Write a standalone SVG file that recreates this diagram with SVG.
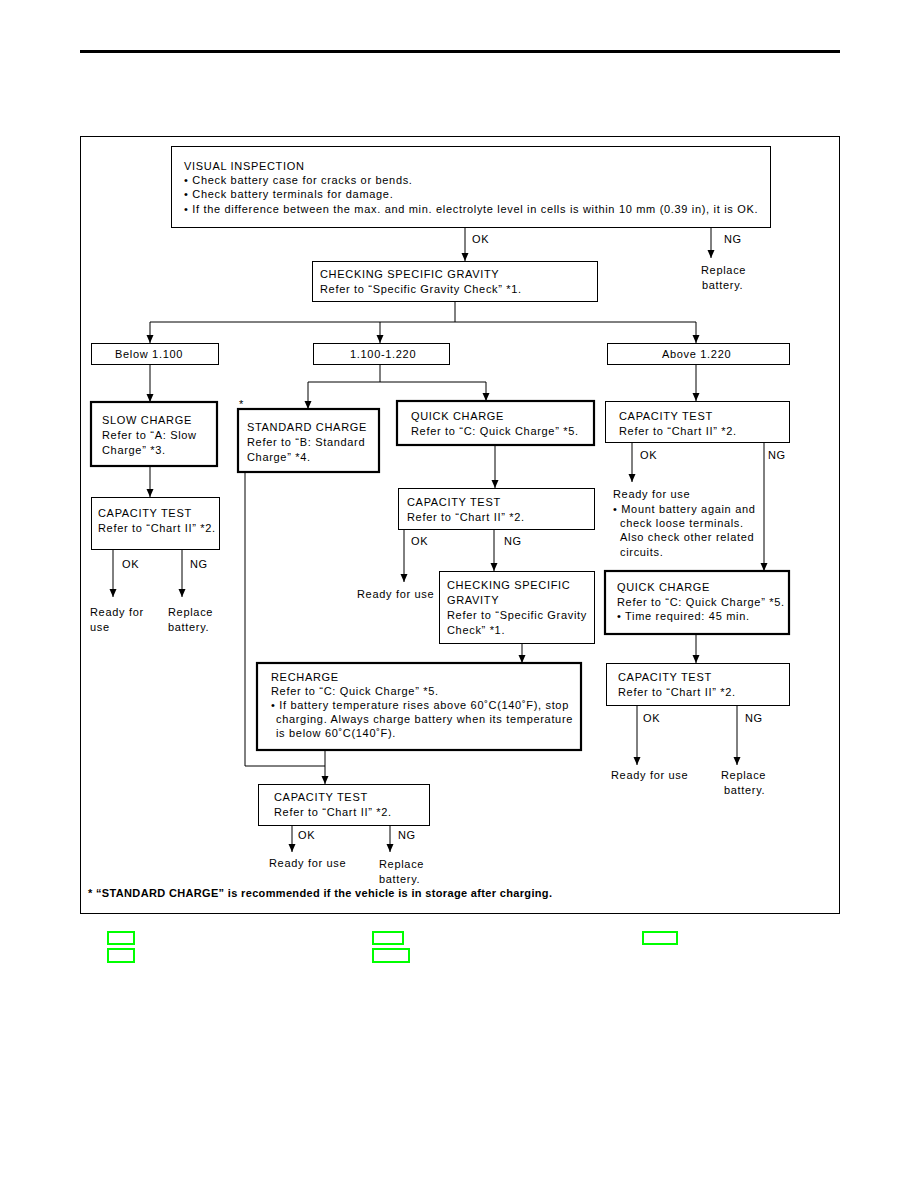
<svg xmlns="http://www.w3.org/2000/svg" width="918" height="1188" viewBox="0 0 918 1188">
<defs>
<marker id="ah" viewBox="0 0 8 10" refX="8" refY="5" markerWidth="8" markerHeight="10" markerUnits="userSpaceOnUse" orient="auto">
<path d="M0,1.5 L8,5 L0,8.5 Z" fill="#000"/>
</marker>
<style>
text{font-family:"Liberation Sans",Arial,sans-serif;font-size:11px;fill:#000;letter-spacing:0.68px}
.b{fill:#fff;stroke:#000;stroke-width:1}
.t{fill:#fff;stroke:#000;stroke-width:2.2}
.c{fill:none;stroke:#000;stroke-width:1}
.a{fill:none;stroke:#000;stroke-width:1;marker-end:url(#ah)}
.g{fill:none;stroke:#00ff00;stroke-width:2}
.fn{font-weight:bold;letter-spacing:0.34px}
</style>
</defs>
<rect width="918" height="1188" fill="#fff"/>
<line x1="80" y1="51.5" x2="840" y2="51.5" stroke="#000" stroke-width="3"/>
<rect x="80.5" y="136.5" width="759" height="777" fill="none" stroke="#000" stroke-width="1"/>

<g id="connectors">
<path class="a" d="M465,227 V261"/>
<path class="a" d="M711,227 V258"/>
<path class="c" d="M455,301 V322 M150,322 H696"/>
<path class="a" d="M150,322 V343"/>
<path class="a" d="M380,322 V343"/>
<path class="a" d="M696,322 V343"/>
<path class="a" d="M150,364 V402"/>
<path class="a" d="M150,466 V497"/>
<path class="a" d="M113,549 V597"/>
<path class="a" d="M182,549 V597"/>
<path class="c" d="M380,364 V382 M308,382 H486"/>
<path class="a" d="M308,382 V409"/>
<path class="a" d="M486,382 V401"/>
<path class="a" d="M495,445 V488"/>
<path class="a" d="M404,529 V582"/>
<path class="a" d="M494,529 V571"/>
<path class="a" d="M522,643 V663"/>
<path class="c" d="M245,472 V766 H325"/>
<path class="a" d="M325,750 V784"/>
<path class="a" d="M292,825 V852"/>
<path class="a" d="M390,825 V852"/>
<path class="a" d="M696,364 V401"/>
<path class="a" d="M632,442 V482"/>
<path class="a" d="M764,442 V571"/>
<path class="a" d="M696,634 V663"/>
<path class="a" d="M637,705 V765"/>
<path class="a" d="M737,705 V765"/>
</g>

<g id="labels">
<text x="472" y="243">OK</text>
<text x="724" y="243">NG</text>
<text x="122" y="568">OK</text>
<text x="190" y="568">NG</text>
<text x="411" y="545">OK</text>
<text x="504" y="545">NG</text>
<text x="298" y="839">OK</text>
<text x="398" y="839">NG</text>
<text x="640" y="459">OK</text>
<text x="768" y="459">NG</text>
<text x="643" y="722">OK</text>
<text x="745" y="722">NG</text>
</g>

<g id="visual-inspection">
<rect class="b" x="171.5" y="146.5" width="599" height="81"/>
<text x="184" y="170">VISUAL INSPECTION</text>
<text x="184" y="184">• Check battery case for cracks or bends.</text>
<text x="184" y="198">• Check battery terminals for damage.</text>
<text x="184" y="213">• If the difference between the max. and min. electrolyte level in cells is within 10 mm (0.39 in), it is OK.</text>
</g>
<g id="replace-battery-1">
<text x="701" y="274">Replace</text>
<text x="702" y="289">battery.</text>
</g>
<g id="checking-sg-1">
<rect class="b" x="312.5" y="261.5" width="285" height="40"/>
<text x="320" y="278">CHECKING SPECIFIC GRAVITY</text>
<text x="320" y="293">Refer to “Specific Gravity Check” *1.</text>
</g>
<g id="below-1100">
<rect class="b" x="91.5" y="343.5" width="127" height="21"/>
<text x="115" y="358">Below 1.100</text>
</g>
<g id="range-1100-1220">
<rect class="b" x="313.5" y="343.5" width="136" height="21"/>
<text x="350" y="358">1.100-1.220</text>
</g>
<g id="above-1220">
<rect class="b" x="607.5" y="343.5" width="182" height="21"/>
<text x="662" y="358">Above 1.220</text>
</g>

<g id="slow-charge">
<rect class="t" x="91" y="402" width="126" height="64"/>
<text x="102" y="424">SLOW CHARGE</text>
<text x="102" y="439">Refer to “A: Slow</text>
<text x="102" y="454">Charge” *3.</text>
</g>
<g id="capacity-test-1">
<rect class="b" x="91.5" y="497.5" width="128" height="52"/>
<text x="98" y="517">CAPACITY TEST</text>
<text x="98" y="532">Refer to “Chart II” *2.</text>
</g>
<g id="result-1">
<text x="90" y="616">Ready for</text>
<text x="90" y="631">use</text>
<text x="168" y="616">Replace</text>
<text x="168" y="631">battery.</text>
</g>

<g id="standard-charge">
<text x="239" y="408">*</text>
<rect class="t" x="238" y="409" width="141" height="63"/>
<text x="247" y="431">STANDARD CHARGE</text>
<text x="247" y="446">Refer to “B: Standard</text>
<text x="247" y="461">Charge” *4.</text>
</g>
<g id="quick-charge-1">
<rect class="t" x="397" y="401" width="197" height="44"/>
<text x="411" y="420">QUICK CHARGE</text>
<text x="411" y="435">Refer to “C: Quick Charge” *5.</text>
</g>
<g id="capacity-test-2">
<rect class="b" x="398.5" y="488.5" width="196" height="41"/>
<text x="407" y="506">CAPACITY TEST</text>
<text x="407" y="521">Refer to “Chart II” *2.</text>
</g>
<g id="result-2">
<text x="357" y="598">Ready for use</text>
</g>
<g id="checking-sg-2">
<rect class="b" x="439.5" y="571.5" width="155" height="72"/>
<text x="447" y="589">CHECKING SPECIFIC</text>
<text x="447" y="604">GRAVITY</text>
<text x="447" y="619">Refer to “Specific Gravity</text>
<text x="447" y="634">Check” *1.</text>
</g>
<g id="recharge">
<rect class="t" x="257" y="663" width="324" height="87"/>
<text x="271" y="681">RECHARGE</text>
<text x="271" y="695">Refer to “C: Quick Charge” *5.</text>
<text x="271" y="709">• If battery temperature rises above 60˚C(140˚F), stop</text>
<text x="276" y="723">charging. Always charge battery when its temperature</text>
<text x="276" y="737">is below 60˚C(140˚F).</text>
</g>
<g id="capacity-test-3">
<rect class="b" x="258.5" y="784.5" width="171" height="41"/>
<text x="274" y="801">CAPACITY TEST</text>
<text x="274" y="816">Refer to “Chart II” *2.</text>
</g>
<g id="result-3">
<text x="269" y="867">Ready for use</text>
<text x="379" y="868">Replace</text>
<text x="379" y="883">battery.</text>
</g>

<g id="capacity-test-4">
<rect class="b" x="605.5" y="401.5" width="184" height="41"/>
<text x="619" y="420">CAPACITY TEST</text>
<text x="619" y="435">Refer to “Chart II” *2.</text>
</g>
<g id="result-4">
<text x="613" y="498">Ready for use</text>
<text x="613" y="513">• Mount battery again and</text>
<text x="620" y="527">check loose terminals.</text>
<text x="620" y="541">Also check other related</text>
<text x="620" y="556">circuits.</text>
</g>
<g id="quick-charge-2">
<rect class="t" x="605" y="571" width="184" height="63"/>
<text x="617" y="591">QUICK CHARGE</text>
<text x="617" y="606">Refer to “C: Quick Charge” *5.</text>
<text x="617" y="620">• Time required: 45 min.</text>
</g>
<g id="capacity-test-5">
<rect class="b" x="606.5" y="663.5" width="183" height="42"/>
<text x="618" y="681">CAPACITY TEST</text>
<text x="618" y="696">Refer to “Chart II” *2.</text>
</g>
<g id="result-5">
<text x="611" y="779">Ready for use</text>
<text x="721" y="779">Replace</text>
<text x="724" y="794">battery.</text>
</g>

<g id="footnote">
<text class="fn" x="88" y="897">* “STANDARD CHARGE” is recommended if the vehicle is in storage after charging.</text>
</g>

<g id="legend">
<rect class="g" x="108" y="932" width="26" height="12"/>
<rect class="g" x="108" y="949" width="26" height="13"/>
<rect class="g" x="373" y="932" width="30" height="12"/>
<rect class="g" x="373" y="949" width="36" height="13"/>
<rect class="g" x="643" y="932" width="34" height="12"/>
</g>
</svg>
